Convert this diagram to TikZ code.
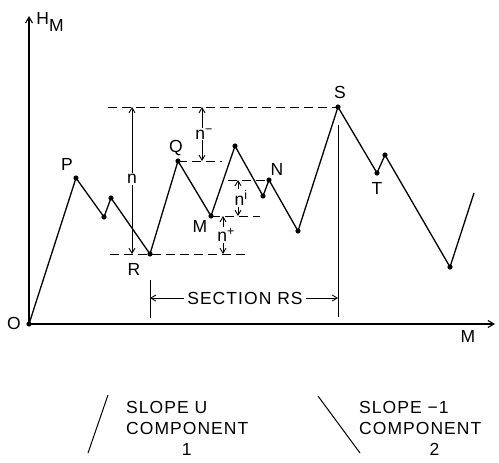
\documentclass[tikz,border=0pt]{standalone}
\usepackage{fontspec}
\setmainfont{Liberation Sans}[LetterSpace=6]
\usepackage{tikz}
\usetikzlibrary{arrows.meta}
\newcommand{\supr}[1]{\raisebox{6pt}{\fontsize{12.5}{12.5}\selectfont #1}}

\begin{document}
\begin{tikzpicture}[
  x=1pt,y=-1pt,
  every node/.style={font=\fontsize{17.5}{21}\selectfont},
  axis/.style={-{Straight Barb[length=6pt,width=7pt]},line width=1.1pt},
  walk/.style={line width=1.3pt,line join=round},
  dot/.style={fill=black},
  guide/.style={dash pattern=on 9pt off 5pt,line width=0.9pt},
  dim/.style={{Straight Barb[length=5pt,width=6pt]}-{Straight Barb[length=5pt,width=6pt]},line width=0.9pt},
  tip/.style={-{Straight Barb[length=5pt,width=6pt]},line width=0.9pt},
  tag/.style={inner sep=1pt,fill=white},
  legend/.style={align=left,anchor=north west,inner sep=0pt}
]
\useasboundingbox (0,0) rectangle (499,463);

% axes
\coordinate (O) at (29,324);
\draw[axis] (O) -- (29,16) coordinate (ytip);
\draw[axis] (O) -- (495,324) coordinate (xtip);
\node (hm) at (50,22) {H\raisebox{-7pt}{M}};
\node (mlabel) at (468,336) {M};

% vertices of the path
\coordinate (P) at (76,178);
\coordinate (a1) at (104,217);
\coordinate (a2) at (111,198);
\coordinate (R) at (150,254);
\coordinate (Q) at (178,161);
\coordinate (M) at (211,216);
\coordinate (b1) at (235,146);
\coordinate (b2) at (263,196);
\coordinate (N) at (269,180);
\coordinate (b3) at (298,231);
\coordinate (S) at (338,107);
\coordinate (T) at (377,173);
\coordinate (c1) at (385,155);
\coordinate (c2) at (450,267);
\coordinate (c3) at (474,193);

% dashed levels
\draw[guide] (108,107) -- (S);
\draw[guide] (Q) -- (222,161);
\draw[guide] (228,180) -- (265,180);
\draw[guide] (M) -- (260,216);
\draw[guide] (110,254) -- (248,254);

\draw[walk] (O) -- (P) -- (a1) -- (a2) -- (R) -- (Q) -- (M) -- (b1) -- (b2) -- (N)
  -- (b3) -- (S) -- (T) -- (c1) -- (c2) -- (c3);
\foreach \v in {O,P,a1,a2,R,Q,M,b1,b2,N,b3,S,T,c1,c2}
  \fill[dot] (\v) circle (2.6pt);

\node (olabel) at (14,323) {O};
\node (plabel) at (67,164) {P};
\node (rlabel) at (134,269) {R};
\node (qlabel) at (176,148) {Q};
\node (mvlabel) at (200,226) {M};
\node (nlabel) at (277,169) {N};
\node (slabel) at (340,92) {S};
\node (tlabel) at (377,188) {T};

% dimension arrows
\draw[dim] (132,107) -- (132,254) node[tag,pos=0.49] (ntag) {n};
\draw[dim] (202,107) -- (202,161) node[tag,midway,xshift=2pt] (nminus) {n\supr{−}};
\draw[dim] (238,180) -- (238,216) node[tag,midway,xshift=3pt] (ni) {n\supr{i}};
\draw[dim] (223,216) -- (223,254) node[tag,midway,xshift=3pt] (nplus) {n\supr{+}};

% section RS
\draw[line width=0.9pt] (150,280) coordinate (secl) -- (150,318);
\draw[line width=0.9pt] (338,125) coordinate (secr) -- (338,317);
\node (section) at (245,298) {SECTION RS};
\draw[tip] (section.west) -- (section.west -| secl);
\draw[tip] (section.east) -- (section.east -| secr);

% legend
\draw[line width=1pt] (88,453) coordinate (u1) -- (108,395) coordinate (u2);
\node[legend] (slopeu) at (126,401) {SLOPE U\\COMPONENT\\\hphantom{COMP}1};
\draw[line width=1pt] (318,396) coordinate (d1) -- (360,453) coordinate (d2);
\node[legend] (slopem) at (359,401) {SLOPE −1\\COMPONENT\\\hphantom{COMPO}2};
\end{tikzpicture}
\end{document}
